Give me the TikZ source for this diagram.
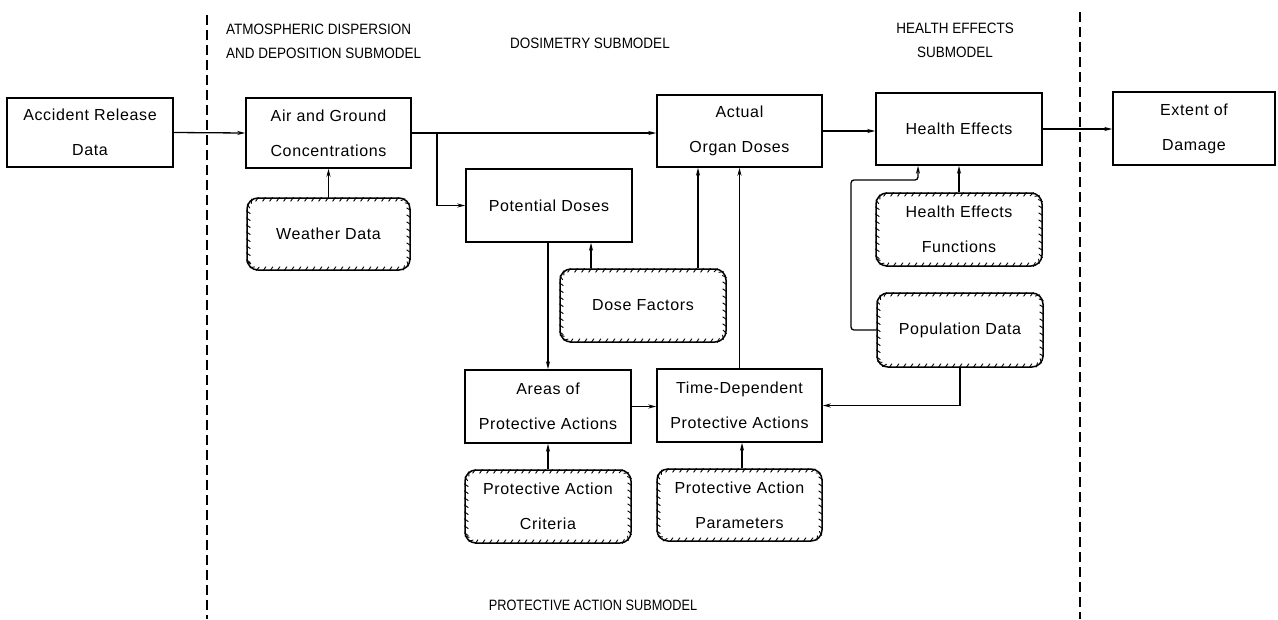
\documentclass[tikz,border=0pt]{standalone}
\usepackage{fontspec}
\setmainfont{Liberation Sans}
\usetikzlibrary{arrows.meta,decorations.pathreplacing}
\begin{document}
\begin{tikzpicture}[x=1pt,y=-1pt,
  box/.style={draw, line width=1.5pt, align=center, inner sep=0pt,
    font=\fontsize{16}{35}\selectfont\addfontfeatures{LetterSpace=4}},
  databox/.style={box, rounded corners=11pt},
  hatch/.style={line width=0.9pt, decorate,
      decoration={border, segment length=7pt, amplitude=-5pt, angle=55}},
  arr/.style={line width=1.3pt, -{Stealth[length=8pt,width=4pt]}},
  sepline/.style={line width=1.2pt, dash pattern=on 10pt off 5pt},
  head/.style={font=\fontsize{15}{24}\selectfont, inner sep=0pt}]
\useasboundingbox (0,0) rectangle (1278,619);

% separators
\coordinate (s1a) at (207,15);
\coordinate (s1b) at (207,619);
\coordinate (s2a) at (1080,12);
\coordinate (s2b) at (1080,619);
\draw[sepline] (s1a) -- (s1b);
\draw[sepline] (s2a) -- (s2b);

% headings
\node[head, anchor=west, align=left] (h1) at (226,41) {\scalebox{0.9}[1]{ATMOSPHERIC DISPERSION}\\\scalebox{0.9}[1]{AND DEPOSITION SUBMODEL}};
\node[head] (h2) at (590,43) {\scalebox{0.9}[1]{DOSIMETRY SUBMODEL}};
\node[head, align=center] (h3) at (955,40) {\scalebox{0.9}[1]{HEALTH EFFECTS}\\\scalebox{0.9}[1]{SUBMODEL}};
\node[head] (h4) at (593,605) {\scalebox{0.85}[1]{PROTECTIVE ACTION SUBMODEL}};

% boxes
\node[box, minimum width=166pt, minimum height=69pt] (acc) at (90,132.5) {Accident Release\\Data};
\node[box, minimum width=165pt, minimum height=70pt] (air) at (328.5,133) {Air and Ground\\Concentrations};
\node[databox, minimum width=163pt, minimum height=72pt] (wea) at (328.5,234) {Weather Data};
\node[box, minimum width=166pt, minimum height=73pt] (pot) at (549,205.5) {Potential Doses};
\node[box, minimum width=165pt, minimum height=72pt] (act) at (739.5,131) {Actual\\Organ Doses};
\node[databox, minimum width=166pt, minimum height=73pt] (dose) at (643,305.5) {Dose Factors};
\node[box, minimum width=166pt, minimum height=73pt] (area) at (548,406.5) {Areas of\\Protective Actions};
\node[box, minimum width=165pt, minimum height=73pt] (tdep) at (739.5,405.5) {Time-Dependent\\Protective Actions};
\node[databox, minimum width=166pt, minimum height=73pt] (crit) at (548,506.5) {Protective Action\\Criteria};
\node[databox, minimum width=165pt, minimum height=72pt] (par) at (739.5,505) {Protective Action\\Parameters};
\node[box, minimum width=166pt, minimum height=72pt] (he) at (959,129) {Health Effects};
\node[databox, minimum width=166pt, minimum height=73pt] (hef) at (959,229.5) {Health Effects\\Functions};
\node[databox, minimum width=166pt, minimum height=74pt] (pop) at (960,330) {Population Data};
\node[box, minimum width=162pt, minimum height=73pt] (ext) at (1194,128.5) {Extent of\\Damage};

% hatching inside the data boxes
\foreach \n in {wea,dose,crit,par,hef,pop}
  \draw[hatch, rounded corners=11pt] (\n.south west) rectangle (\n.north east);

% helper coordinates
\coordinate (bAir) at (437,133);
\coordinate (xDA) at (698,0);
\coordinate (xDP) at (591,0);
\coordinate (xPT) at (742,0);
\coordinate (cPop) at (851,180);
\coordinate (xPH) at (918,0);

% connectors
\draw[arr] (acc.east) -- (air.west);
\draw[arr] (wea.north) -- (air.south);
\draw[arr] (air.east) -- (air.east -| act.west);
\draw[arr] (bAir) |- (pot.west);
\draw[arr] (act.east) -- (act.east -| he.west);
\draw[arr] (he.east) -- (he.east -| ext.west);
\draw[arr] (dose.north -| xDA) -- (act.south -| xDA);
\draw[arr] (tdep.north) -- (act.south -| tdep.north);
\draw[arr] (dose.north -| xDP) -- (pot.south -| xDP);
\draw[arr] (pot.south -| area.north) -- (area.north);
\draw[arr] (area.east) -- (area.east -| tdep.west);
\draw[arr] (crit.north) -- (area.south);
\draw[arr] (par.north -| xPT) -- (tdep.south -| xPT);
\draw[arr] (pop.south) |- (tdep.east);
\draw[arr] (hef.north) -- (he.south);
\draw[arr, rounded corners=3pt] (pop.west) -| (cPop) -| (he.south -| xPH);
\end{tikzpicture}
\end{document}
